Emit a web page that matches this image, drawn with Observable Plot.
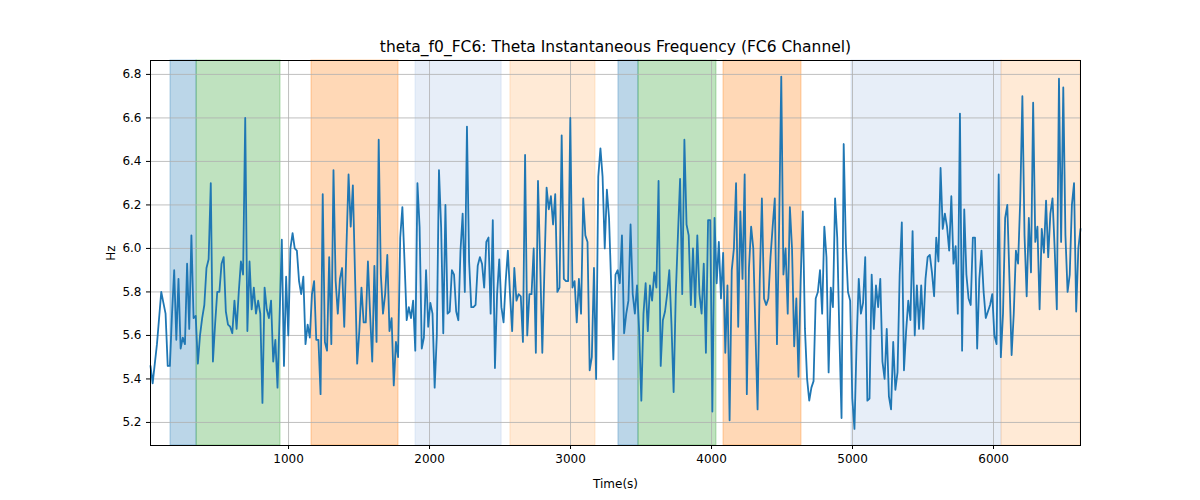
<!DOCTYPE html>
<html><head><meta charset="utf-8">
<script src="https://cdn.jsdelivr.net/npm/d3@7"></script>
<script src="https://cdn.jsdelivr.net/npm/@observablehq/plot@0.6"></script>
<style>body{margin:0;background:#fff;font-family:"DejaVu Sans",sans-serif}</style>
</head><body><div id="chart"></div>
<script>
const tStart = 21, tEnd = 6617;
const values = [
5.46,5.38,5.47,5.56,5.68,5.80,5.75,5.70,5.46,5.46,5.70,5.90,5.58,5.86,5.54,5.59,5.56,5.93,5.63,6.06,5.68,5.69,5.47,5.60,5.68,5.74,5.91,5.95,6.30,5.48,5.65,5.80,5.80,5.93,5.96,5.71,5.65,5.64,5.61,5.76,5.63,5.80,5.94,5.88,6.60,5.62,5.94,5.72,5.82,5.70,5.76,5.70,5.29,5.82,5.72,5.68,5.76,5.48,5.58,5.36,5.70,6.04,5.46,5.87,5.60,6.00,6.07,6.00,5.99,5.85,5.79,5.87,5.56,5.65,5.59,5.79,5.85,5.58,5.58,5.33,6.25,5.57,5.53,5.96,5.56,6.36,5.85,5.70,5.86,5.91,5.64,6.00,6.34,6.10,6.29,5.88,5.47,5.62,5.82,5.66,5.66,5.94,5.70,5.48,5.92,5.57,6.50,5.88,5.70,
5.79,5.97,5.62,5.68,5.37,5.57,5.50,6.05,6.19,5.94,5.67,5.73,5.68,5.76,5.53,6.30,6.10,5.54,5.59,5.90,5.64,5.75,5.70,5.36,5.60,6.36,6.10,5.61,6.20,5.70,5.71,5.90,5.88,5.71,5.67,5.99,6.16,5.80,6.56,5.94,5.73,5.73,5.74,5.92,5.96,5.93,5.82,6.03,6.05,5.70,6.13,5.45,5.79,5.95,5.73,5.66,5.85,5.99,5.79,5.62,5.91,5.76,5.79,5.78,5.57,6.43,5.60,5.79,5.79,6.00,5.52,6.31,5.94,5.52,5.91,6.28,6.18,6.24,6.11,6.25,5.80,5.82,6.52,5.86,5.85,5.85,6.60,5.82,5.85,5.66,5.86,5.70,6.23,6.06,6.03,5.44,5.50,5.91,5.40,6.33,6.46,6.33,6.00,6.27,6.14,5.83,
5.49,5.88,5.90,5.84,6.06,5.61,5.70,5.76,6.11,5.79,5.70,5.83,5.62,5.30,5.70,5.84,5.62,5.83,5.76,5.89,5.82,6.31,5.46,5.67,5.71,5.79,5.90,5.65,5.34,5.79,6.06,6.32,5.79,6.50,6.11,6.06,5.74,6.00,5.73,6.06,5.79,5.70,5.93,5.52,6.13,6.13,5.25,6.14,5.84,6.03,5.77,5.98,5.52,5.83,5.21,5.90,6.00,6.30,5.64,6.17,5.86,6.34,5.33,5.91,6.10,6.00,5.62,5.26,5.85,6.23,5.77,5.74,5.77,5.96,6.10,6.23,5.56,6.10,6.79,5.88,6.00,5.70,6.19,6.00,5.55,5.77,5.41,5.85,6.17,5.63,5.40,5.30,5.36,5.39,5.77,5.80,5.90,5.70,6.10,5.96,5.43,5.82,5.73,6.23,6.05,5.60,5.22,6.48,6.02,5.80,
5.76,5.31,5.17,5.57,5.86,5.70,5.75,5.96,5.30,5.31,5.88,5.63,5.83,5.73,5.86,5.48,5.40,5.63,5.32,5.26,5.57,5.35,5.43,5.88,6.12,5.44,5.62,5.76,5.67,6.08,5.60,5.83,5.63,5.83,5.63,5.86,5.96,5.97,5.89,5.78,6.05,5.94,6.37,6.09,6.16,6.10,5.99,6.24,5.93,6.01,5.70,6.62,5.53,6.18,5.88,5.77,5.74,6.05,6.05,5.54,5.86,5.99,5.80,5.68,5.71,5.74,5.79,5.60,5.56,6.34,5.50,5.70,6.14,6.20,5.86,5.51,5.70,5.99,5.93,6.22,6.70,6.06,5.78,6.14,5.89,6.67,6.03,6.10,5.72,6.09,5.98,6.22,5.96,6.16,6.23,6.00,5.72,6.78,6.03,6.74,6.06,5.80,5.88,6.20,6.30,5.71,6.00,6.09
];
const spanStart = [163, 348, 1163, 1901, 2574, 3340, 3482, 4085, 4993, 6057];
const spanEnd   = [348, 943, 1780, 2511, 3177, 3482, 4035, 4638, 6057, 6617];
const spanColor = ["#1f77b4","#2ca02c","#ff7f0e","#aec7e8","#ffbb78","#1f77b4","#2ca02c","#ff7f0e","#aec7e8","#ffbb78"];
const xTicks = [1000,2000,3000,4000,5000,6000];
const yTicks = [5.2,5.4,5.6,5.8,6.0,6.2,6.4,6.6,6.8];

const step = (tEnd - tStart) / (values.length - 1);
const data = values.map((v, i) => ({t: tStart + i * step, v}));
const spans = spanStart.map((s, i) => ({x1: s, x2: spanEnd[i], c: spanColor[i]}));

const plot = Plot.plot({
  width: 1200, height: 500,
  marginLeft: 150, marginRight: 120, marginTop: 60, marginBottom: 55,
  style: {fontFamily: "DejaVu Sans, sans-serif", fontSize: "12px", color: "#000", background: "#fff"},
  x: {domain: [tStart, tEnd], ticks: xTicks, tickFormat: d => String(d), label: "Time(s)", labelArrow: "none", labelAnchor: "center", labelOffset: 42, tickSize: 4},
  y: {domain: [5.094, 6.864], ticks: yTicks, tickFormat: d => d.toFixed(1), label: "Hz", labelArrow: "none", labelAnchor: "center", labelOffset: 44, tickSize: 4},
  marks: [
    Plot.rectX(spans, {x1: "x1", x2: "x2", y1: 5.094, y2: 6.864, fill: "c", fillOpacity: 0.3, stroke: "c", strokeOpacity: 0.35}),
    Plot.gridX(xTicks, {stroke: "#b0b0b0", strokeOpacity: 1, strokeWidth: 0.8}),
    Plot.gridY(yTicks, {stroke: "#b0b0b0", strokeOpacity: 1, strokeWidth: 0.8}),
    Plot.line(data, {x: "t", y: "v", stroke: "#1f77b4", strokeWidth: 1.8}),
    Plot.frame({stroke: "#000", strokeWidth: 1}),
    Plot.text(["theta_f0_FC6: Theta Instantaneous Frequency (FC6 Channel)"], {frameAnchor: "top", dy: -20, fontSize: 15.5, fill: "#000"})
  ]
});
document.getElementById("chart").appendChild(plot);
</script></body></html>
